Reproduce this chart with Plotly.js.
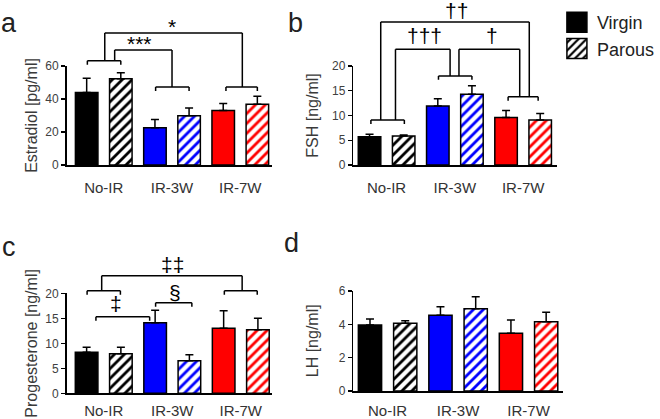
<!DOCTYPE html>
<html><head><meta charset="utf-8">
<script src="https://cdn.plot.ly/plotly-3.0.1.min.js"></script>
<style>html,body{margin:0;padding:0;background:#fff}#chart{width:660px;height:419px}</style>
</head><body><div id="chart"></div>
<script>
// ---- data ----
const categories = ['No-IR', 'IR-3W', 'IR-7W'];
const groupNames = ['Virgin', 'Parous'];
const colors = ['#000000', '#0000FF', '#FF0000'];

const estradiolVirgin = [44, 22.5, 33];
const estradiolVirginErr = [8.5, 5, 4.2];
const estradiolParous = [52.3, 29.8, 36.8];
const estradiolParousErr = [3.6, 4.8, 4.8];

const fshVirgin = [5.7, 11.9, 9.6];
const fshVirginErr = [0.5, 1.5, 1.4];
const fshParous = [5.85, 14.3, 9.1];
const fshParousErr = [0.2, 1.7, 1.3];

const progVirgin = [8.2, 14.1, 13.0];
const progVirginErr = [1.0, 2.5, 3.5];
const progParous = [7.9, 6.5, 12.7];
const progParousErr = [1.3, 1.2, 2.3];

const lhVirgin = [3.96, 4.54, 3.46];
const lhVirginErr = [0.36, 0.52, 0.8];
const lhParous = [4.06, 4.94, 4.16];
const lhParousErr = [0.16, 0.72, 0.56];

const yTitles = ['Estradiol [pg/ml]', 'FSH [ng/ml]', 'Progesterone [ng/ml]', 'LH [ng/ml]'];
const panelLetters = ['a', 'b', 'c', 'd'];

// ---- style / layout ----
const FONT = 'Arial, "Liberation Sans", sans-serif';
const panels = [
  {xa: 'x',  ya: 'y',  v: estradiolVirgin, ve: estradiolVirginErr, p: estradiolParous, pe: estradiolParousErr,
   xd: [0.1030, 0.4212], yd: [0.6062, 0.8425], xr: [-0.545, 2.466], yr: [0, 60], dt: 20, so: 8, tx: 32},
  {xa: 'x2', ya: 'y2', v: fshVirgin, ve: fshVirginErr, p: fshParous, pe: fshParousErr,
   xd: [0.5470, 0.8621], yd: [0.6062, 0.8425], xr: [-0.487, 2.495], yr: [0, 20], dt: 5, so: 8, tx: 319},
  {xa: 'x3', ya: 'y3', v: progVirgin, ve: progVirginErr, p: progParous, pe: progParousErr,
   xd: [0.1030, 0.4212], yd: [0.0613, 0.3000], xr: [-0.543, 2.457], yr: [0, 20], dt: 5, so: 3, tx: 32},
  {xa: 'x4', ya: 'y4', v: lhVirgin, ve: lhVirginErr, p: lhParous, pe: lhParousErr,
   xd: [0.5470, 0.8712], yd: [0.0668, 0.3055], xr: [-0.486, 2.486], yr: [0, 6], dt: 2, so: 5, tx: 319}
];

const traces = [];
panels.forEach((pn, i) => {
  traces.push({
    type: 'bar', x: categories, y: pn.v, name: groupNames[0], legendgroup: 'v', showlegend: i === 0,
    xaxis: pn.xa, yaxis: pn.ya, hoverinfo: 'skip',
    marker: {color: colors, line: {color: '#000', width: 1.5}},
    error_y: {type: 'data', symmetric: false, array: pn.ve, arrayminus: [0, 0, 0], color: '#000', thickness: 1.5, width: 4}
  });
  traces.push({
    type: 'bar', x: categories, y: pn.p, name: groupNames[1], legendgroup: 'p', showlegend: i === 0,
    xaxis: pn.xa, yaxis: pn.ya, hoverinfo: 'skip',
    marker: {color: colors, line: {color: '#000', width: 1.5},
      pattern: {shape: '/', fgcolor: colors, bgcolor: '#ffffff', size: 7, solidity: 0.4, fillmode: 'replace'}},
    error_y: {type: 'data', symmetric: false, array: pn.pe, arrayminus: [0, 0, 0], color: '#000', thickness: 1.5, width: 4}
  });
});

const layout = {
  width: 660, height: 419, margin: {l: 0, r: 0, t: 0, b: 0},
  paper_bgcolor: '#fff', plot_bgcolor: 'rgba(0,0,0,0)',
  barmode: 'group', bargap: 0, bargroupgap: 0.34,
  font: {family: FONT, color: '#333'},
  showlegend: true,
  legend: {x: 0.8621, y: 0.9905, xanchor: 'left', yanchor: 'top', font: {family: FONT, size: 18, color: '#222'},
           bgcolor: 'rgba(0,0,0,0)', tracegroupgap: 5, traceorder: 'normal'},
  shapes: [], annotations: []
};

panels.forEach((pn, i) => {
  const xk = 'xaxis' + (i ? i + 1 : ''), yk = 'yaxis' + (i ? i + 1 : '');
  layout[xk] = {domain: pn.xd, range: pn.xr, type: 'category', anchor: pn.ya, showline: true, linecolor: '#000', linewidth: 1.5,
    ticks: '', showgrid: false, zeroline: false, tickfont: {family: FONT, size: 15, color: '#333'}, ticklabelstandoff: pn.so,
    automargin: false, fixedrange: true};
  layout[yk] = {domain: pn.yd, range: pn.yr, dtick: pn.dt, tick0: 0, anchor: pn.xa, showline: true, linecolor: '#000', linewidth: 1.5,
    ticks: 'outside', ticklen: 4, tickwidth: 1.5, tickcolor: '#000', showgrid: false, zeroline: false,
    tickfont: {family: FONT, size: 12, color: '#404040'}, automargin: false, fixedrange: true};
  // y-axis title, centred on the panel's vertical domain
  layout.annotations.push({text: yTitles[i], xref: 'paper', yref: 'paper', x: pn.tx / 660, y: (pn.yd[0] + pn.yd[1]) / 2,
    textangle: -90, showarrow: false, xanchor: 'center', yanchor: 'middle', font: {family: FONT, size: 16, color: '#3a3a3a'}});
});

// significance brackets (value units of each panel)
function seg(pn, x0, y0, x1, y1) {
  const ymax = pn.yr[1];
  layout.shapes.push({type: 'line', xref: pn.xa, yref: pn.ya + ' domain', x0: x0, x1: x1, y0: y0 / ymax, y1: y1 / ymax,
    line: {color: '#000', width: 1.5}});
}
function sub(pn, x0, x1, y, tick) { seg(pn, x0, y, x1, y); seg(pn, x0, y, x0, y - tick); seg(pn, x1, y, x1, y - tick); }
function poly(pn, pts) { for (let k = 0; k < pts.length - 1; k++) seg(pn, pts[k][0], pts[k][1], pts[k + 1][0], pts[k + 1][1]); }
function lab(pn, text, x, y) {
  layout.annotations.push({text: text, xref: pn.xa, yref: pn.ya + ' domain', x: x, y: y / pn.yr[1], showarrow: false,
    xanchor: 'center', yanchor: 'middle', font: {family: FONT, size: 21, color: '#000'}});
}
const [pa, pb, pc] = panels;
// panel a
sub(pa, -0.24, 0.25, 63.2, 2.4); sub(pa, 0.76, 1.25, 47.3, 2.4); sub(pa, 1.79, 2.25, 47.3, 2.4);
poly(pa, [[0.015, 63.2], [0.015, 80], [2.03, 80], [2.03, 47.3]]);
poly(pa, [[0.16, 63.2], [0.16, 69.7], [1.0, 69.7], [1.0, 47.3]]);
lab(pa, '*', 1.0, 84.0); lab(pa, '***', 0.52, 73.5);
// panel b
sub(pb, -0.23, 0.26, 9.1, 0.8); sub(pb, 0.76, 1.25, 18.0, 0.8); sub(pb, 1.78, 2.22, 13.8, 0.8);
poly(pb, [[-0.086, 9.1], [-0.086, 28.9], [2.09, 28.9], [2.09, 13.8]]);
poly(pb, [[0.13, 9.1], [0.13, 23.4], [0.93, 23.4], [0.93, 18.0]]);
poly(pb, [[1.06, 18.0], [1.06, 23.4], [1.95, 23.4], [1.95, 13.8]]);
lab(pb, '††', 1.02, 31.3); lab(pb, '†††', 0.55, 26.2); lab(pb, '†', 1.54, 26.2);
// panel c
sub(pc, -0.243, 0.243, 20.5, 0.8); sub(pc, 1.76, 2.24, 20.5, 0.8); sub(pc, 0.757, 1.286, 18.1, 0.8);
sub(pc, -0.114, 0.67, 15.3, 0.8);
poly(pc, [[-0.03, 20.5], [-0.03, 23.5], [2.02, 23.5], [2.02, 20.5]]);
lab(pc, '‡‡', 1.01, 25.7); lab(pc, '‡', 0.186, 18.0); lab(pc, '§', 1.04, 20.2);

// panel letters
const letterPos = [[9, 23], [302, 23], [9, 247], [298, 243]];
panelLetters.forEach((t, i) => {
  layout.annotations.push({text: t, xref: 'paper', yref: 'paper', x: letterPos[i][0] / 660, y: 1 - letterPos[i][1] / 419,
    showarrow: false, xanchor: 'center', yanchor: 'middle', font: {family: FONT, size: 27, color: '#222'}});
});

Plotly.newPlot('chart', traces, layout, {staticPlot: true, displayModeBar: false}).then(() => {
  document.querySelectorAll('.legend .legendpoints path').forEach(p => {
    p.setAttribute('d', 'M10,10H-10V-10H10Z');
  });
});
</script>
</body></html>
